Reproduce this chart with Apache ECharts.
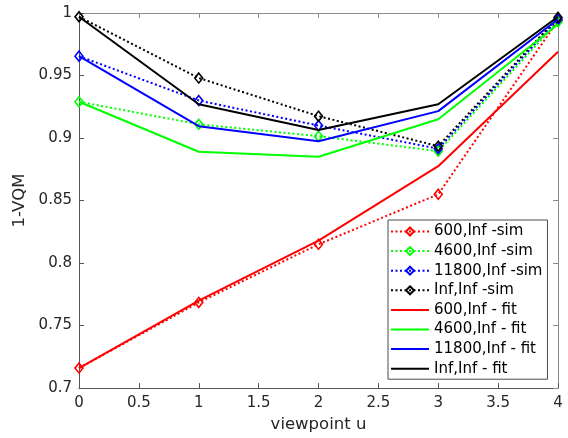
<!DOCTYPE html>
<html>
<head>
<meta charset="utf-8">
<script src="https://cdn.jsdelivr.net/npm/echarts@6/dist/echarts.min.js"></script>
<style>
  html, body { margin: 0; padding: 0; background: #fff; }
  #chart { width: 568px; height: 438px; }
</style>
</head>
<body>
<div id="chart"></div>
<script>
// Viewpoint positions on the x axis
const viewpoints = [0, 1, 2, 3, 4];

// Simulated 1-VQM per viewpoint
const sim600   = [0.716, 0.7685, 0.815, 0.855, 0.994];
const sim4600  = [0.929, 0.911, 0.9015, 0.8895, 0.993];
const sim11800 = [0.9655, 0.930, 0.910, 0.8915, 0.995];
const simInf   = [0.997, 0.948, 0.9175, 0.8935, 0.9965];

// Fitted 1-VQM per viewpoint
const fit600   = [0.716, 0.770, 0.818, 0.8775, 0.969];
const fit4600  = [0.929, 0.889, 0.885, 0.915, 0.991];
const fit11800 = [0.9655, 0.9095, 0.8975, 0.9215, 0.995];
const fitInf   = [0.997, 0.927, 0.9065, 0.927, 0.997];

const names = [
  '600,Inf -sim', '4600,Inf -sim', '11800,Inf -sim', 'Inf,Inf -sim',
  '600,Inf - fit', '4600,Inf - fit', '11800,Inf - fit', 'Inf,Inf - fit'
];
const colors = ['#ff0000', '#00ff00', '#0000ff', '#000000'];
const simSets = [sim600, sim4600, sim11800, simInf];
const fitSets = [fit600, fit4600, fit11800, fitInf];

const pairs = (ys) => viewpoints.map((x, i) => [x, ys[i]]);
const textGray = '#262626';
const axisGray = '#555555';
const boxGray = '#8c8c8c';
const fontFamily = '"DejaVu Sans", sans-serif';

const series = [];
simSets.forEach((ys, k) => {
  series.push({
    name: names[k],
    type: 'line',
    data: pairs(ys),
    symbol: 'diamond',
    symbolSize: [8, 10],
    lineStyle: { color: colors[k], width: 2, type: [2, 2.5] },
    itemStyle: { color: 'rgba(255,255,255,0)', borderColor: colors[k], borderWidth: 1.6 },
    z: 2,
    animation: false
  });
});
fitSets.forEach((ys, k) => {
  series.push({
    name: names[k + 4],
    type: 'line',
    data: pairs(ys),
    // plain line: the 'line' symbol keeps the legend key a bare stroke
    symbol: 'line',
    showSymbol: false,
    lineStyle: { color: colors[k], width: 2, type: 'solid' },
    itemStyle: { color: colors[k], borderColor: colors[k] },
    z: 3,
    animation: false
  });
});

const fmt = (v) => String(parseFloat(v.toFixed(2)));

const chart = echarts.init(document.getElementById('chart'), null, { renderer: 'canvas' });
chart.setOption({
  backgroundColor: '#ffffff',
  animation: false,
  textStyle: { fontFamily },
  grid: { left: 79, right: 10, top: 13, bottom: 48, containLabel: false },
  xAxis: [{
    type: 'value', min: 0, max: 4, interval: 0.5,
    name: 'viewpoint u', nameLocation: 'middle', nameGap: 25,
    nameTextStyle: { fontSize: 16.5, color: textGray, fontFamily },
    axisLine: { show: true, onZero: false, lineStyle: { color: axisGray, width: 1 } },
    axisTick: { show: true, inside: true, length: 5, lineStyle: { color: axisGray } },
    axisLabel: { fontSize: 15, color: textGray, margin: 8, formatter: fmt, fontFamily },
    splitLine: { show: false }
  }, {
    type: 'value', min: 0, max: 4, interval: 0.5, position: 'top',
    axisLine: { show: true, onZero: false, lineStyle: { color: boxGray, width: 1 } },
    axisTick: { show: true, inside: true, length: 5, lineStyle: { color: boxGray } },
    axisLabel: { show: false },
    splitLine: { show: false }
  }],
  yAxis: [{
    type: 'value', min: 0.7, max: 1, interval: 0.05,
    name: '1-VQM', nameLocation: 'middle', nameGap: 51, nameRotate: 90,
    nameMoveOverlap: false,
    nameTextStyle: { fontSize: 16.5, color: textGray, fontFamily },
    axisLine: { show: true, onZero: false, lineStyle: { color: axisGray, width: 1 } },
    axisTick: { show: true, inside: true, length: 5, lineStyle: { color: axisGray } },
    axisLabel: { fontSize: 15, color: textGray, margin: 7, formatter: fmt, fontFamily },
    splitLine: { show: false }
  }, {
    type: 'value', min: 0.7, max: 1, interval: 0.05, position: 'right',
    axisLine: { show: true, onZero: false, lineStyle: { color: boxGray, width: 1 } },
    axisTick: { show: true, inside: true, length: 5, lineStyle: { color: boxGray } },
    axisLabel: { show: false },
    splitLine: { show: false }
  }],
  legend: {
    data: names,
    orient: 'vertical',
    left: 388, top: 220,
    padding: [3, 5, 2, 2],
    itemGap: 2.6,
    itemWidth: 38,
    itemHeight: 10,
    backgroundColor: '#ffffff',
    borderColor: '#4d4d4d',
    borderWidth: 1,
    borderRadius: 0,
    textStyle: { fontSize: 15, color: '#000', lineHeight: 17, fontFamily }
  },
  series
});
</script>
</body>
</html>
